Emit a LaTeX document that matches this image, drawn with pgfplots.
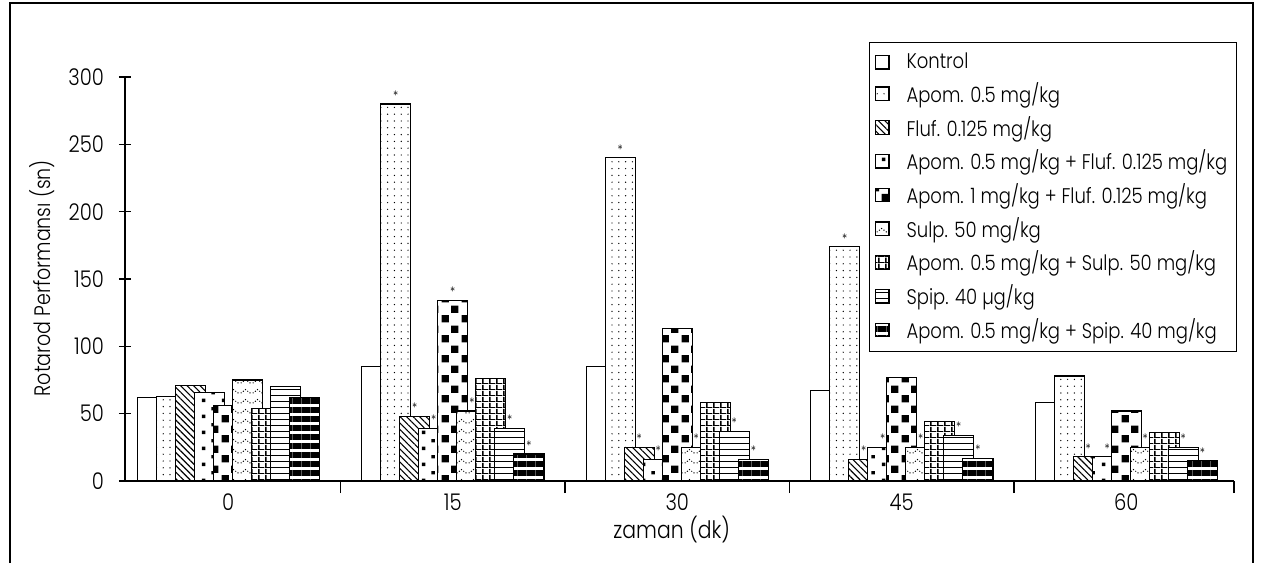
\documentclass[border=0pt]{standalone}
\usepackage{fontspec}
\setmainfont{Poppins Light}[FakeStretch=0.85]
\usepackage{pgfplots}
\pgfplotsset{compat=1.18}
\usetikzlibrary{patterns,patterns.meta}

% custom patterns
\pgfdeclarepatternformonly{bigcheck}{\pgfpointorigin}{\pgfpoint{10pt}{10pt}}{\pgfpoint{10pt}{10pt}}{%
  \pgfpathrectangle{\pgfpoint{0.8pt}{0.8pt}}{\pgfpoint{3.8pt}{3.8pt}}%
  \pgfpathrectangle{\pgfpoint{5.8pt}{5.8pt}}{\pgfpoint{3.8pt}{3.8pt}}%
  \pgfusepath{fill}}
\pgfdeclarepatternformonly{sqdots}{\pgfpointorigin}{\pgfpoint{10pt}{8pt}}{\pgfpoint{10pt}{8pt}}{%
  \pgfpathrectangle{\pgfpoint{1pt}{1pt}}{\pgfpoint{1.8pt}{1.8pt}}%
  \pgfpathrectangle{\pgfpoint{6pt}{5pt}}{\pgfpoint{1.8pt}{1.8pt}}%
  \pgfusepath{fill}}
\pgfdeclarepatternformonly{chevdots}{\pgfpointorigin}{\pgfpoint{6pt}{5pt}}{\pgfpoint{6pt}{5pt}}{%
  \pgfpathcircle{\pgfpoint{0.6pt}{0.6pt}}{0.38pt}%
  \pgfpathcircle{\pgfpoint{1.8pt}{1.5pt}}{0.38pt}%
  \pgfpathcircle{\pgfpoint{3pt}{2.4pt}}{0.38pt}%
  \pgfpathcircle{\pgfpoint{4.2pt}{1.5pt}}{0.38pt}%
  \pgfpathcircle{\pgfpoint{5.4pt}{0.6pt}}{0.38pt}%
  \pgfusepath{fill}}
\pgfdeclarepatternformonly{gridsq}{\pgfpointorigin}{\pgfpoint{3.6pt}{3pt}}{\pgfpoint{3.6pt}{3pt}}{%
  \pgfpathrectangle{\pgfpoint{0pt}{0pt}}{\pgfpoint{0.9pt}{3pt}}%
  \pgfpathrectangle{\pgfpoint{0pt}{0pt}}{\pgfpoint{3.6pt}{0.55pt}}%
  \pgfusepath{fill}}

\pgfplotsset{
  bb/.style={draw=black, line width=0.6pt, fill=white,
    legend image code/.code={\draw[##1] (0pt,-3.4pt) rectangle (6.8pt,3.4pt);}},
}

\begin{document}
\begin{tikzpicture}
\useasboundingbox (-62.5pt,-41pt) rectangle (572pt,240.5pt);
\draw[line width=0.6pt] (-57.5pt,-41pt) -- (-57.5pt,239pt) -- (564pt,239pt) -- (564pt,-41pt);
\begin{axis}[
  at={(0,0)}, anchor=south west,
  scale only axis, width=554.5pt, height=202pt,
  xmin=-0.46, xmax=4.48, ymin=0, ymax=300,
  enlargelimits=false,
  axis lines=left, axis line style={-, line width=0.7pt},
  tick align=center, major tick length=6pt,
  tick style={black, line width=0.6pt},
  xtick={0.5,1.5,2.5,3.5,4.48}, xticklabels={},
  extra x ticks={0,1,2,3,4}, extra x tick labels={0,15,30,45,60},
  extra x tick style={major tick length=0pt},
  ytick={0,50,100,150,200,250,300},
  /pgf/number format/assume math mode=true,
  ticklabel style={font=\fontsize{11.5}{13}\selectfont},
  xticklabel style={yshift=-3pt},
  yticklabel style={xshift=-4pt},
  ylabel={Rotarod Performansı (sn)},
  ylabel style={at={(axis description cs:-0.075,0.502)}, anchor=center, font=\fontsize{11.2}{13}\selectfont},
  xlabel={zaman (dk)},
  xlabel style={at={(axis description cs:0.493,-0.121)}, anchor=center, font=\fontsize{12}{14}\selectfont},
  ybar, bar width=0.134,
  point meta=explicit symbolic,
  nodes near coords,
  every node near coord/.append style={font=\fontsize{6.5}{7}\selectfont, inner sep=0pt, yshift=1.5pt},
  legend cell align=left,
  legend style={at={(rel axis cs:0.671,1.087)}, anchor=north west,
    draw=black, line width=0.6pt, font=\fontsize{10.6}{12}\selectfont,
    inner xsep=2.5pt, inner ysep=3.2pt, row sep=1.4pt,
    /tikz/every odd column/.append style={column sep=6.5pt}},
]
\addplot[bb, bar shift=-0.339] coordinates {(0,62)[] (1,85)[] (2,85)[] (3,67)[] (4,58)[]};
\addlegendentry{Kontrol}
\addplot[bb, bar shift=-0.254, postaction={pattern={Dots[distance=3.4pt, radius=0.35pt]}}]
  coordinates {(0,63)[] (1,280)[*] (2,240)[*] (3,174)[*] (4,78)[]};
\addlegendentry{Apom. 0.5 mg/kg}
\addplot[bb, bar shift=-0.169, postaction={pattern={Lines[angle=-45, distance=2.3pt, line width=0.55pt]}}]
  coordinates {(0,71)[] (1,48)[*] (2,25)[*] (3,16)[*] (4,18)[*]};
\addlegendentry{Fluf. 0.125 mg/kg}
\addplot[bb, bar shift=-0.085, postaction={pattern=sqdots}]
  coordinates {(0,66)[] (1,39)[*] (2,16)[*] (3,25)[*] (4,18)[*]};
\addlegendentry{Apom. 0.5 mg/kg + Fluf. 0.125 mg/kg}
\addplot[bb, bar shift=0, postaction={pattern=bigcheck}]
  coordinates {(0,56)[] (1,134)[*] (2,113)[] (3,77)[] (4,52)[]};
\addlegendentry{Apom. 1 mg/kg + Fluf. 0.125 mg/kg}
\addplot[bb, bar shift=0.085, postaction={pattern=chevdots}]
  coordinates {(0,75)[] (1,52)[*] (2,25)[*] (3,25)[*] (4,25)[*]};
\addlegendentry{Sulp. 50 mg/kg}
\addplot[bb, bar shift=0.169, postaction={pattern=gridsq}]
  coordinates {(0,54)[] (1,76)[] (2,58)[] (3,44)[] (4,36)[]};
\addlegendentry{Apom. 0.5 mg/kg + Sulp. 50 mg/kg}
\addplot[bb, bar shift=0.254, postaction={pattern={Lines[angle=0, distance=3pt, line width=0.5pt]}}]
  coordinates {(0,70)[] (1,39)[*] (2,37)[*] (3,34)[*] (4,25)[*]};
\addlegendentry{Spip. 40 µg/kg}
\addplot[bb, bar shift=0.339, postaction={pattern={Lines[angle=0, distance=4.5pt, line width=2.8pt]}}]
  coordinates {(0,62)[] (1,20)[*] (2,16)[*] (3,17)[*] (4,15)[*]};
\addlegendentry{Apom. 0.5 mg/kg + Spip. 40 mg/kg}
\end{axis}
\end{tikzpicture}
\end{document}
